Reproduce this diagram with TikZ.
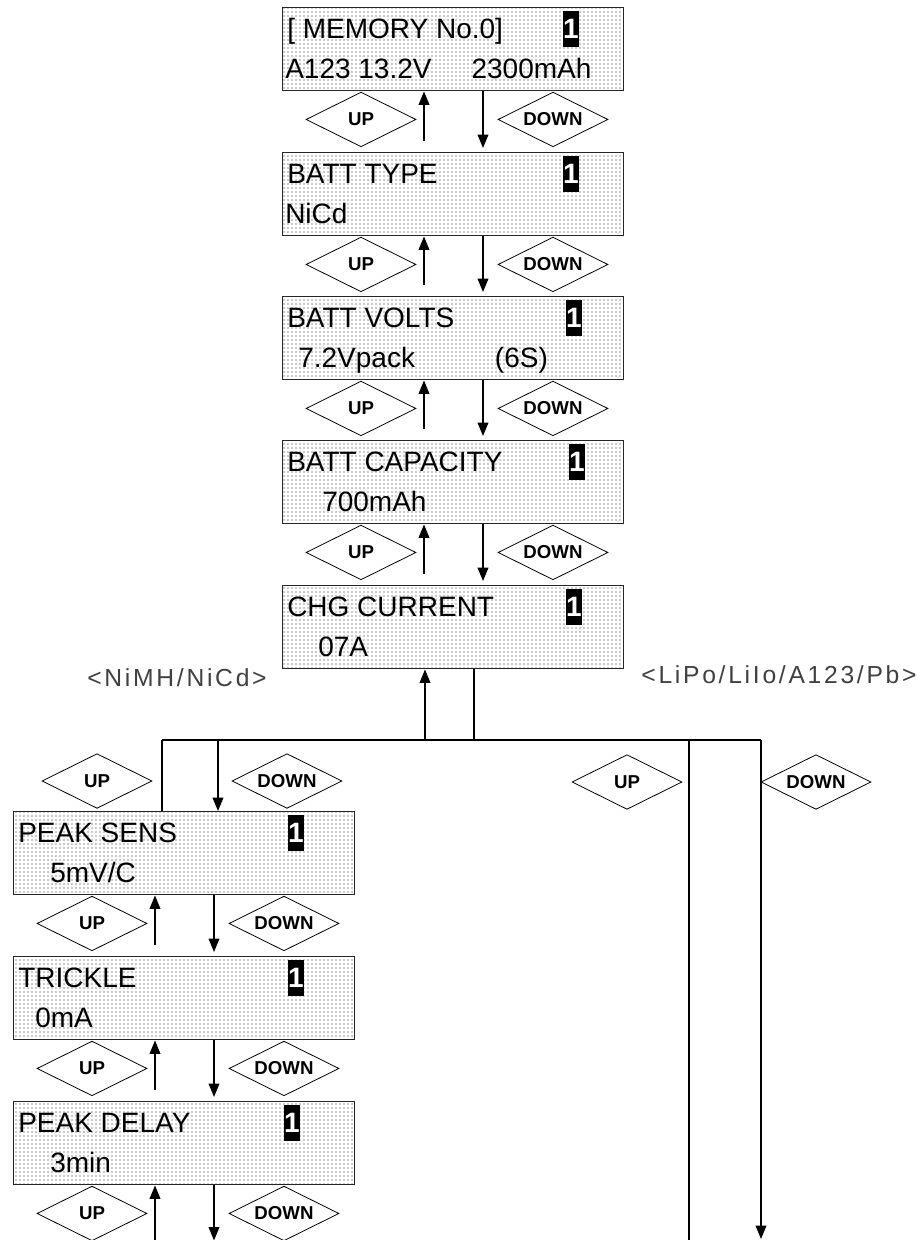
\documentclass[tikz,border=0pt]{standalone}
\usepackage{fontspec}
\setmainfont{Liberation Sans}
\usetikzlibrary{arrows.meta,shapes.geometric,patterns,calc}
\tikzset{
  lcd/.style={draw=black!85, line width=1.1pt, pattern=dots, pattern color=black!90,
    anchor=north west, minimum width=255.75pt, minimum height=62.25pt, inner sep=0pt},
  line/.style={anchor=base west, inner sep=0pt, font=\fontsize{21}{21}\selectfont},
  flag/.style={fill=black, text=white, minimum width=12.5pt, minimum height=27pt,
    inner sep=0pt, font=\fontsize{21}{21}\selectfont\bfseries},
  key/.style={draw, shape=diamond, aspect=2, line width=0.6pt, minimum width=82.5pt,
    minimum height=41pt, inner sep=0pt, font=\fontsize{14}{14}\selectfont\bfseries},
  flow/.style={-{Triangle[width=8pt,length=10pt]}, line width=1pt},
  wire/.style={line width=1pt},
  branch/.style={font=\fontsize{18.5}{18.5}\selectfont\addfontfeature{LetterSpace=11}, text=black!75}
}

\begin{document}
\begin{tikzpicture}[x=0.75pt, y=-0.75pt]
  \useasboundingbox (0,0) rectangle (922,1240);

  % main menu column
  \node[lcd] (mem) at (282,7) {};
  \node[line] (mem-a) at ($(mem.north west)+(5,31)$) {[ MEMORY No.0]};
  \node[line] (mem-b) at ($(mem.north west)+(3,71)$) {A123 13.2V\hspace{30pt}2300mAh};
  \node[flag] (mem-n) at ($(mem.north west)+(289,22)$) {1};

  \node[lcd] (type) at (282,152) {};
  \node[line] (type-a) at ($(type.north west)+(5,31)$) {BATT TYPE};
  \node[line] (type-b) at ($(type.north west)+(3,71)$) {NiCd};
  \node[flag] (type-n) at ($(type.north west)+(289,22)$) {1};

  \node[lcd] (volts) at (282,296) {};
  \node[line] (volts-a) at ($(volts.north west)+(5,31)$) {BATT VOLTS};
  \node[line] (volts-b) at ($(volts.north west)+(16,71)$) {7.2Vpack\hspace{60pt}(6S)};
  \node[flag] (volts-n) at ($(volts.north west)+(292,22)$) {1};

  \node[lcd] (cap) at (282,440) {};
  \node[line] (cap-a) at ($(cap.north west)+(5,31)$) {BATT CAPACITY};
  \node[line] (cap-b) at ($(cap.north west)+(40,71)$) {700mAh};
  \node[flag] (cap-n) at ($(cap.north west)+(295,22)$) {1};

  \node[lcd] (chg) at (282,585) {};
  \node[line] (chg-a) at ($(chg.north west)+(5,31)$) {CHG CURRENT};
  \node[line] (chg-b) at ($(chg.north west)+(36,71)$) {07A};
  \node[flag] (chg-n) at ($(chg.north west)+(292,22)$) {1};

  % NiMH/NiCd column
  \node[lcd] (sens) at (13,811) {};
  \node[line] (sens-a) at ($(sens.north west)+(5,31)$) {PEAK SENS};
  \node[line] (sens-b) at ($(sens.north west)+(37,71)$) {5mV/C};
  \node[flag] (sens-n) at ($(sens.north west)+(283,22)$) {1};

  \node[lcd] (trickle) at (13,956) {};
  \node[line] (trickle-a) at ($(trickle.north west)+(5,31)$) {TRICKLE};
  \node[line] (trickle-b) at ($(trickle.north west)+(22,71)$) {0mA};
  \node[flag] (trickle-n) at ($(trickle.north west)+(283,22)$) {1};

  \node[lcd] (delay) at (13,1101) {};
  \node[line] (delay-a) at ($(delay.north west)+(5,31)$) {PEAK DELAY};
  \node[line] (delay-b) at ($(delay.north west)+(37,71)$) {3min};
  \node[flag] (delay-n) at ($(delay.north west)+(279,22)$) {1};

  % keys between screens
  \foreach \a/\b in {mem/type,type/volts,volts/cap,cap/chg,sens/trickle,trickle/delay} {
    \node[key] (up-\a) at ($(\a.south west)+(79,28)$) {UP};
    \node[key] (dn-\a) at ($(\a.south west)+(271,28)$) {DOWN};
    \draw[flow] ($(\b.north west)+(142,-11)$) -- ($(\a.south west)+(142,0)$);
    \draw[flow] ($(\a.south west)+(201,0)$) -- ($(\b.north west)+(201,-4)$);
  }
  \coordinate (low) at ($(delay.south west)+(0,55)$);
  \node[key] (up-delay) at ($(delay.south west)+(79,28)$) {UP};
  \node[key] (dn-delay) at ($(delay.south west)+(271,28)$) {DOWN};
  \draw[flow] ($(low)+(142,0)$) -- ($(delay.south west)+(142,0)$);
  \draw[flow] ($(delay.south west)+(201,0)$) -- ($(low)+(201,0)$);

  % branch by battery type
  \node[branch] (nimh) at (177,678) {<NiMH/NiCd>};
  \node[branch] (lipo) at (779,675) {<LiPo/LiIo/A123/Pb>};
  \coordinate (busl) at (162,740);
  \coordinate (busr) at (761,740);
  \coordinate (chgup) at ($(chg.south west)+(143,0)$);
  \coordinate (chgdn) at ($(chg.south west)+(192,0)$);
  \coordinate (sensdn) at ($(sens.north west)+(205,0)$);
  \coordinate (endl) at (689,1240);
  \coordinate (endr) at (761,1239);
  \draw[wire] (busl) -- (busr);
  \draw[flow] (chgup |- busl) -- (chgup);
  \draw[wire] (chgdn) -- (chgdn |- busl);
  \draw[wire] (busl) -- (busl |- sens.north);
  \draw[flow] (sensdn |- busl) -- (sensdn);
  \draw[wire] (endl |- busl) -- (endl);
  \draw[flow] (busr) -- (endr);
  \node[key] (up-nimh) at (97,781) {UP};
  \node[key] (dn-nimh) at (287,781) {DOWN};
  \node[key] (up-lipo) at (627,782) {UP};
  \node[key] (dn-lipo) at (816,782) {DOWN};
\end{tikzpicture}
\end{document}
